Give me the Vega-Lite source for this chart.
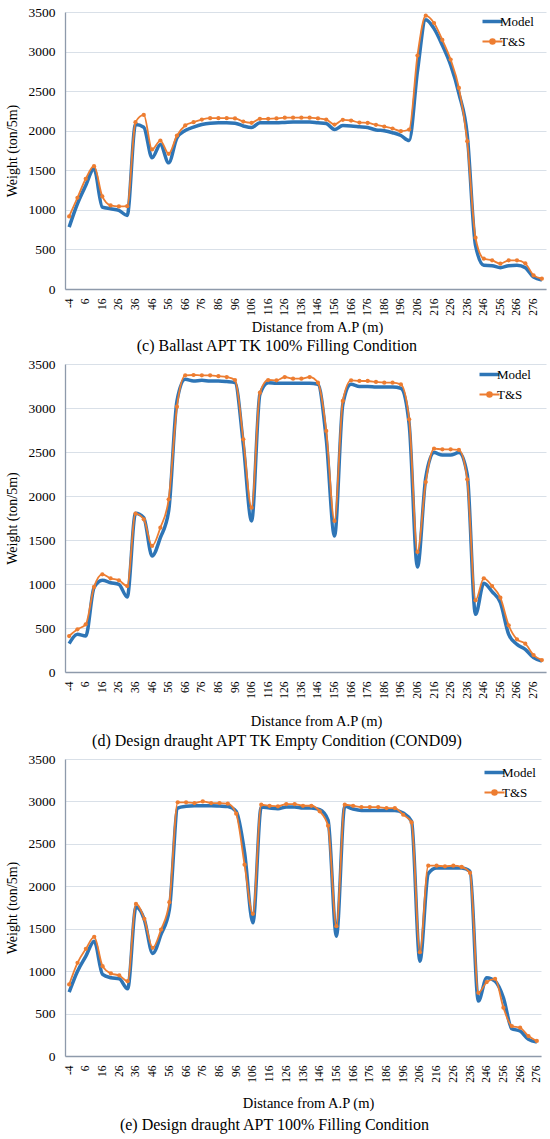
{
  "$schema": "https://vega.github.io/schema/vega-lite/v6.json",
  "background": "white",
  "padding": {"left": 5, "top": 5, "right": 2, "bottom": 2},
  "config": {
    "font": "Liberation Serif",
    "view": {"stroke": null},
    "concat": {"spacing": 3},
    "axis": {
      "labelFont": "Liberation Serif",
      "titleFont": "Liberation Serif",
      "labelColor": "#000000",
      "titleColor": "#000000",
      "titleFontWeight": "normal",
      "ticks": false,
      "tickSize": 0,
      "labelOverlap": false,
      "domainColor": "#8E9AAB",
      "domainWidth": 1.3
    },
    "axisX": {
      "grid": false,
      "labelFontSize": 11.5,
      "labelAngle": -90,
      "labelPadding": 9,
      "labelFlush": false,
      "titleFontSize": 14.5,
      "titlePadding": 5
    },
    "axisY": {
      "grid": true,
      "gridColor": "#D9E0E8",
      "gridWidth": 1,
      "labelFontSize": 13.5,
      "labelPadding": 10,
      "titleFontSize": 14,
      "titlePadding": 9
    },
    "legend": {
      "orient": "none",
      "padding": 0,
      "labelFont": "Liberation Serif",
      "labelFontSize": 13,
      "labelColor": "#000000",
      "labelOffset": 1,
      "rowPadding": 6,
      "symbolType": "stroke",
      "symbolSize": 400
    },
    "title": {
      "orient": "bottom",
      "anchor": "middle",
      "frame": "bounds",
      "font": "Liberation Serif",
      "fontSize": 16,
      "fontWeight": "normal",
      "color": "#000000",
      "offset": 4
    }
  },
  "datasets": {
    "c": [
      {"x": -4, "Model": 782, "T&S": 917},
      {"x": 1, "Model": 1077, "T&S": 1153},
      {"x": 6, "Model": 1308, "T&S": 1393},
      {"x": 11, "Model": 1519, "T&S": 1552},
      {"x": 16, "Model": 1035, "T&S": 1170},
      {"x": 21, "Model": 1014, "T&S": 1056},
      {"x": 26, "Model": 993, "T&S": 1043},
      {"x": 31, "Model": 930, "T&S": 1047},
      {"x": 36, "Model": 2078, "T&S": 2108},
      {"x": 41, "Model": 2045, "T&S": 2200},
      {"x": 46, "Model": 1658, "T&S": 1763},
      {"x": 51, "Model": 1826, "T&S": 1876},
      {"x": 56, "Model": 1594, "T&S": 1708},
      {"x": 61, "Model": 1910, "T&S": 1939},
      {"x": 66, "Model": 2003, "T&S": 2066},
      {"x": 71, "Model": 2045, "T&S": 2108},
      {"x": 76, "Model": 2078, "T&S": 2141},
      {"x": 81, "Model": 2095, "T&S": 2158},
      {"x": 86, "Model": 2100, "T&S": 2158},
      {"x": 91, "Model": 2100, "T&S": 2158},
      {"x": 96, "Model": 2095, "T&S": 2155},
      {"x": 101, "Model": 2060, "T&S": 2115},
      {"x": 106, "Model": 2040, "T&S": 2100},
      {"x": 111, "Model": 2100, "T&S": 2150},
      {"x": 116, "Model": 2100, "T&S": 2150},
      {"x": 121, "Model": 2100, "T&S": 2155},
      {"x": 126, "Model": 2105, "T&S": 2165},
      {"x": 131, "Model": 2110, "T&S": 2165},
      {"x": 136, "Model": 2110, "T&S": 2165},
      {"x": 141, "Model": 2110, "T&S": 2165},
      {"x": 146, "Model": 2100, "T&S": 2155},
      {"x": 151, "Model": 2090, "T&S": 2141},
      {"x": 156, "Model": 2015, "T&S": 2078},
      {"x": 161, "Model": 2065, "T&S": 2137},
      {"x": 166, "Model": 2060, "T&S": 2129},
      {"x": 171, "Model": 2050, "T&S": 2103},
      {"x": 176, "Model": 2040, "T&S": 2099},
      {"x": 181, "Model": 2010, "T&S": 2074},
      {"x": 186, "Model": 2000, "T&S": 2053},
      {"x": 191, "Model": 1975, "T&S": 2028},
      {"x": 196, "Model": 1940, "T&S": 1994},
      {"x": 201, "Model": 1876, "T&S": 2015},
      {"x": 206, "Model": 2750, "T&S": 2950},
      {"x": 211, "Model": 3403, "T&S": 3454},
      {"x": 216, "Model": 3290, "T&S": 3361},
      {"x": 221, "Model": 3080, "T&S": 3147},
      {"x": 226, "Model": 2830, "T&S": 2899},
      {"x": 231, "Model": 2470, "T&S": 2541},
      {"x": 236, "Model": 1950, "T&S": 1868},
      {"x": 241, "Model": 550, "T&S": 648},
      {"x": 246, "Model": 300, "T&S": 383},
      {"x": 251, "Model": 295, "T&S": 362},
      {"x": 256, "Model": 270, "T&S": 320},
      {"x": 261, "Model": 295, "T&S": 362},
      {"x": 266, "Model": 300, "T&S": 362},
      {"x": 271, "Model": 270, "T&S": 324},
      {"x": 276, "Model": 150, "T&S": 172},
      {"x": 281, "Model": 115, "T&S": 130}
    ],
    "d": [
      {"x": -4, "Model": 322, "T&S": 409},
      {"x": 1, "Model": 428, "T&S": 485},
      {"x": 6, "Model": 409, "T&S": 542},
      {"x": 11, "Model": 958, "T&S": 966},
      {"x": 16, "Model": 1042, "T&S": 1110},
      {"x": 21, "Model": 1015, "T&S": 1064},
      {"x": 26, "Model": 996, "T&S": 1042},
      {"x": 31, "Model": 852, "T&S": 977},
      {"x": 36, "Model": 1803, "T&S": 1799},
      {"x": 41, "Model": 1754, "T&S": 1735},
      {"x": 46, "Model": 1318, "T&S": 1432},
      {"x": 51, "Model": 1527, "T&S": 1640},
      {"x": 56, "Model": 1830, "T&S": 1962},
      {"x": 61, "Model": 3080, "T&S": 3015},
      {"x": 66, "Model": 3326, "T&S": 3371},
      {"x": 71, "Model": 3307, "T&S": 3375},
      {"x": 76, "Model": 3314, "T&S": 3371},
      {"x": 81, "Model": 3307, "T&S": 3371},
      {"x": 86, "Model": 3307, "T&S": 3362},
      {"x": 91, "Model": 3300, "T&S": 3352},
      {"x": 96, "Model": 3288, "T&S": 3318},
      {"x": 101, "Model": 2587, "T&S": 2644},
      {"x": 106, "Model": 1716, "T&S": 1867},
      {"x": 111, "Model": 3155, "T&S": 3174},
      {"x": 116, "Model": 3288, "T&S": 3318},
      {"x": 121, "Model": 3280, "T&S": 3314},
      {"x": 126, "Model": 3280, "T&S": 3352},
      {"x": 131, "Model": 3280, "T&S": 3333},
      {"x": 136, "Model": 3280, "T&S": 3333},
      {"x": 141, "Model": 3280, "T&S": 3352},
      {"x": 146, "Model": 3269, "T&S": 3288},
      {"x": 151, "Model": 2650, "T&S": 2739},
      {"x": 156, "Model": 1545, "T&S": 1716},
      {"x": 161, "Model": 3042, "T&S": 3080},
      {"x": 166, "Model": 3269, "T&S": 3314},
      {"x": 171, "Model": 3245, "T&S": 3307},
      {"x": 176, "Model": 3245, "T&S": 3307},
      {"x": 181, "Model": 3240, "T&S": 3296},
      {"x": 186, "Model": 3239, "T&S": 3288},
      {"x": 191, "Model": 3239, "T&S": 3288},
      {"x": 196, "Model": 3224, "T&S": 3269},
      {"x": 201, "Model": 2815, "T&S": 2871},
      {"x": 206, "Model": 1193, "T&S": 1364},
      {"x": 211, "Model": 2208, "T&S": 2159},
      {"x": 216, "Model": 2493, "T&S": 2538},
      {"x": 221, "Model": 2466, "T&S": 2530},
      {"x": 226, "Model": 2466, "T&S": 2530},
      {"x": 231, "Model": 2493, "T&S": 2523},
      {"x": 236, "Model": 2246, "T&S": 2189},
      {"x": 241, "Model": 655, "T&S": 814},
      {"x": 246, "Model": 1008, "T&S": 1064},
      {"x": 251, "Model": 913, "T&S": 977},
      {"x": 256, "Model": 788, "T&S": 845},
      {"x": 261, "Model": 428, "T&S": 530},
      {"x": 266, "Model": 314, "T&S": 371},
      {"x": 271, "Model": 258, "T&S": 322},
      {"x": 276, "Model": 163, "T&S": 193},
      {"x": 281, "Model": 125, "T&S": 136}
    ],
    "e": [
      {"x": -4, "Model": 753, "T&S": 843},
      {"x": 1, "Model": 1000, "T&S": 1098},
      {"x": 6, "Model": 1177, "T&S": 1263},
      {"x": 11, "Model": 1353, "T&S": 1404},
      {"x": 16, "Model": 961, "T&S": 1059},
      {"x": 21, "Model": 922, "T&S": 973},
      {"x": 26, "Model": 910, "T&S": 949},
      {"x": 31, "Model": 792, "T&S": 882},
      {"x": 36, "Model": 1757, "T&S": 1792},
      {"x": 41, "Model": 1608, "T&S": 1616},
      {"x": 46, "Model": 1208, "T&S": 1275},
      {"x": 51, "Model": 1432, "T&S": 1490},
      {"x": 56, "Model": 1726, "T&S": 1812},
      {"x": 61, "Model": 2922, "T&S": 2989},
      {"x": 66, "Model": 2942, "T&S": 2989},
      {"x": 71, "Model": 2949, "T&S": 2981},
      {"x": 76, "Model": 2949, "T&S": 3000},
      {"x": 81, "Model": 2949, "T&S": 2981},
      {"x": 86, "Model": 2945, "T&S": 2981},
      {"x": 91, "Model": 2940, "T&S": 2973},
      {"x": 96, "Model": 2883, "T&S": 2855},
      {"x": 101, "Model": 2400, "T&S": 2255},
      {"x": 106, "Model": 1569, "T&S": 1675},
      {"x": 111, "Model": 2934, "T&S": 2961},
      {"x": 116, "Model": 2922, "T&S": 2949},
      {"x": 121, "Model": 2914, "T&S": 2942},
      {"x": 126, "Model": 2934, "T&S": 2969},
      {"x": 131, "Model": 2934, "T&S": 2969},
      {"x": 136, "Model": 2922, "T&S": 2949},
      {"x": 141, "Model": 2922, "T&S": 2949},
      {"x": 146, "Model": 2902, "T&S": 2883},
      {"x": 151, "Model": 2780, "T&S": 2714},
      {"x": 156, "Model": 1412, "T&S": 1530},
      {"x": 161, "Model": 2942, "T&S": 2961},
      {"x": 166, "Model": 2910, "T&S": 2949},
      {"x": 171, "Model": 2894, "T&S": 2934},
      {"x": 176, "Model": 2894, "T&S": 2934},
      {"x": 181, "Model": 2894, "T&S": 2934},
      {"x": 186, "Model": 2894, "T&S": 2922},
      {"x": 191, "Model": 2894, "T&S": 2922},
      {"x": 196, "Model": 2863, "T&S": 2843},
      {"x": 201, "Model": 2765, "T&S": 2753},
      {"x": 206, "Model": 1118, "T&S": 1224},
      {"x": 211, "Model": 2149, "T&S": 2243},
      {"x": 216, "Model": 2216, "T&S": 2243},
      {"x": 221, "Model": 2216, "T&S": 2235},
      {"x": 226, "Model": 2216, "T&S": 2243},
      {"x": 231, "Model": 2216, "T&S": 2228},
      {"x": 236, "Model": 2177, "T&S": 2157},
      {"x": 241, "Model": 647, "T&S": 745},
      {"x": 246, "Model": 922, "T&S": 871},
      {"x": 251, "Model": 882, "T&S": 910},
      {"x": 256, "Model": 686, "T&S": 569},
      {"x": 261, "Model": 322, "T&S": 353},
      {"x": 266, "Model": 294, "T&S": 333},
      {"x": 271, "Model": 196, "T&S": 235},
      {"x": 276, "Model": 165, "T&S": 177}
    ]
  },
  "resolve": {"legend": {"color": "independent"}},
  "vconcat": [
    {
      "width": 481,
      "height": 277,
      "title": {"text": "(c) Ballast APT TK 100% Filling Condition", "offset": 4},
      "data": {"name": "c"},
      "transform": [{"fold": ["Model", "T&S"], "as": ["series", "w"]}],
      "encoding": {
        "x": {"field": "x", "type": "quantitative", "scale": {"domain": [-6.5, 283.5], "nice": false, "zero": false},
          "axis": {"values": [-4, 6, 16, 26, 36, 46, 56, 66, 76, 86, 96, 106, 116, 126, 136, 146, 156, 166, 176, 186, 196, 206, 216, 226, 236, 246, 256, 266, 276], "labelExpr": "'' + datum.value", "labelOverlap": false, "labelSeparation": 0, "title": "Distance from A.P (m)", "titleX": 252, "titlePadding": 5}},
        "y": {"field": "w", "type": "quantitative", "scale": {"domain": [0, 3500], "nice": false},
          "axis": {"values": [0, 500, 1000, 1500, 2000, 2500, 3000, 3500], "format": "d", "labelOverlap": false, "labelSeparation": 0, "title": "Weight (ton/5m)"}}
      },
      "layer": [
        {
          "mark": {"type": "line", "interpolate": "monotone"},
          "encoding": {
            "color": {"field": "series", "type": "nominal", "scale": {"domain": ["Model", "T&S"], "range": ["#2E75B6", "#ED7D31"]},
              "legend": {"title": null, "legendX": 421, "legendY": 3, "encode": {"symbols": {"update": {
                "shape": {"signal": "datum.value === 'T&S' ? 'M-1,0H1M-0.24,0A0.24,0.24,0,1,0,0.24,0A0.24,0.24,0,1,0,-0.24,0Z' : 'stroke'"},
                "strokeWidth": {"signal": "datum.value === 'T&S' ? 1.8 : 3.5"},
                "fill": {"signal": "datum.value === 'T&S' ? '#ED7D31' : 'transparent'"}}}}}},
            "strokeWidth": {"field": "series", "type": "nominal", "scale": {"domain": ["Model", "T&S"], "range": [3.5, 1.8]}, "legend": null}
          }
        },
        {
          "transform": [{"filter": "datum.series === 'T&S'"}],
          "mark": {"type": "point", "filled": true, "size": 18, "color": "#ED7D31", "opacity": 1},
          "encoding": {}
        }
      ]
    },
    {
      "width": 481,
      "height": 308,
      "title": {"text": "(d) Design draught APT TK Empty Condition (COND09)", "offset": 5},
      "data": {"name": "d"},
      "transform": [{"fold": ["Model", "T&S"], "as": ["series", "w"]}],
      "encoding": {
        "x": {"field": "x", "type": "quantitative", "scale": {"domain": [-6.5, 283.5], "nice": false, "zero": false},
          "axis": {"values": [-4, 6, 16, 26, 36, 46, 56, 66, 76, 86, 96, 106, 116, 126, 136, 146, 156, 166, 176, 186, 196, 206, 216, 226, 236, 246, 256, 266, 276], "labelExpr": "'' + datum.value", "labelOverlap": false, "labelSeparation": 0, "title": "Distance from A.P (m)", "titleX": 251, "titlePadding": 16}},
        "y": {"field": "w", "type": "quantitative", "scale": {"domain": [0, 3500], "nice": false},
          "axis": {"values": [0, 500, 1000, 1500, 2000, 2500, 3000, 3500], "format": "d", "labelOverlap": false, "labelSeparation": 0, "title": "Weight (ton/5m)"}}
      },
      "layer": [
        {
          "mark": {"type": "line", "interpolate": "monotone"},
          "encoding": {
            "color": {"field": "series", "type": "nominal", "scale": {"domain": ["Model", "T&S"], "range": ["#2E75B6", "#ED7D31"]},
              "legend": {"title": null, "legendX": 418, "legendY": 4, "encode": {"symbols": {"update": {
                "shape": {"signal": "datum.value === 'T&S' ? 'M-1,0H1M-0.24,0A0.24,0.24,0,1,0,0.24,0A0.24,0.24,0,1,0,-0.24,0Z' : 'stroke'"},
                "strokeWidth": {"signal": "datum.value === 'T&S' ? 1.8 : 3.5"},
                "fill": {"signal": "datum.value === 'T&S' ? '#ED7D31' : 'transparent'"}}}}}},
            "strokeWidth": {"field": "series", "type": "nominal", "scale": {"domain": ["Model", "T&S"], "range": [3.5, 1.8]}, "legend": null}
          }
        },
        {
          "transform": [{"filter": "datum.series === 'T&S'"}],
          "mark": {"type": "point", "filled": true, "size": 18, "color": "#ED7D31", "opacity": 1},
          "encoding": {}
        }
      ]
    },
    {
      "width": 476,
      "height": 297,
      "title": {"text": "(e) Design draught APT 100% Filling Condition", "offset": 7},
      "data": {"name": "e"},
      "transform": [{"fold": ["Model", "T&S"], "as": ["series", "w"]}],
      "encoding": {
        "x": {"field": "x", "type": "quantitative", "scale": {"domain": [-6.5, 278.5], "nice": false, "zero": false},
          "axis": {"values": [-4, 6, 16, 26, 36, 46, 56, 66, 76, 86, 96, 106, 116, 126, 136, 146, 156, 166, 176, 186, 196, 206, 216, 226, 236, 246, 256, 266, 276], "labelExpr": "'' + datum.value", "labelOverlap": false, "labelSeparation": 0, "title": "Distance from A.P (m)", "titleX": 243, "titlePadding": 14}},
        "y": {"field": "w", "type": "quantitative", "scale": {"domain": [0, 3500], "nice": false},
          "axis": {"values": [0, 500, 1000, 1500, 2000, 2500, 3000, 3500], "format": "d", "labelOverlap": false, "labelSeparation": 0, "title": "Weight (ton/5m)"}}
      },
      "layer": [
        {
          "mark": {"type": "line", "interpolate": "monotone"},
          "encoding": {
            "color": {"field": "series", "type": "nominal", "scale": {"domain": ["Model", "T&S"], "range": ["#2E75B6", "#ED7D31"]},
              "legend": {"title": null, "legendX": 423, "legendY": 7, "encode": {"symbols": {"update": {
                "shape": {"signal": "datum.value === 'T&S' ? 'M-1,0H1M-0.24,0A0.24,0.24,0,1,0,0.24,0A0.24,0.24,0,1,0,-0.24,0Z' : 'stroke'"},
                "strokeWidth": {"signal": "datum.value === 'T&S' ? 1.8 : 3.5"},
                "fill": {"signal": "datum.value === 'T&S' ? '#ED7D31' : 'transparent'"}}}}}},
            "strokeWidth": {"field": "series", "type": "nominal", "scale": {"domain": ["Model", "T&S"], "range": [3.5, 1.8]}, "legend": null}
          }
        },
        {
          "transform": [{"filter": "datum.series === 'T&S'"}],
          "mark": {"type": "point", "filled": true, "size": 18, "color": "#ED7D31", "opacity": 1},
          "encoding": {}
        }
      ]
    }
  ]
}
